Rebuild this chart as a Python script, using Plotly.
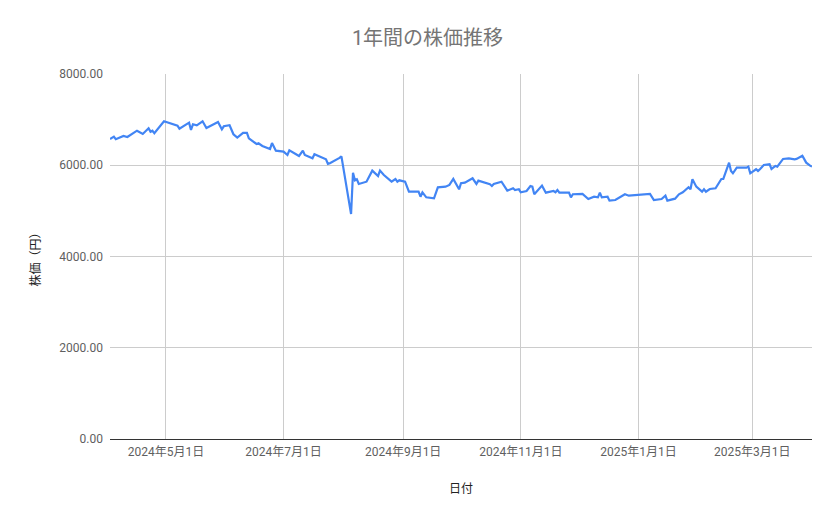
import plotly.graph_objects as go

# 日付と株価（チャートから読み取り）
dates = [
    "2024-04-02", "2024-04-04", "2024-04-05", "2024-04-09", "2024-04-11", "2024-04-16",
    "2024-04-19", "2024-04-22", "2024-04-23", "2024-04-24", "2024-04-25", "2024-04-30",
    "2024-05-07", "2024-05-08", "2024-05-13", "2024-05-14", "2024-05-15", "2024-05-17",
    "2024-05-20", "2024-05-22", "2024-05-28", "2024-05-30", "2024-05-31",
    "2024-06-03", "2024-06-05", "2024-06-07", "2024-06-10", "2024-06-12", "2024-06-13",
    "2024-06-17", "2024-06-18", "2024-06-20", "2024-06-24", "2024-06-25", "2024-06-27",
    "2024-07-01", "2024-07-03", "2024-07-04", "2024-07-09", "2024-07-11", "2024-07-12",
    "2024-07-16", "2024-07-17", "2024-07-22", "2024-07-23", "2024-07-24", "2024-07-25",
    "2024-07-30", "2024-07-31",
    "2024-08-05", "2024-08-06", "2024-08-07", "2024-08-08", "2024-08-09", "2024-08-13",
    "2024-08-16", "2024-08-19", "2024-08-20", "2024-08-22", "2024-08-26", "2024-08-28",
    "2024-08-29", "2024-08-30",
    "2024-09-02", "2024-09-04", "2024-09-09", "2024-09-10", "2024-09-11", "2024-09-13",
    "2024-09-17", "2024-09-19", "2024-09-23", "2024-09-25", "2024-09-27", "2024-09-30",
    "2024-10-01", "2024-10-03", "2024-10-07", "2024-10-09", "2024-10-10", "2024-10-16",
    "2024-10-17", "2024-10-18", "2024-10-22", "2024-10-25", "2024-10-28", "2024-10-29",
    "2024-10-31",
    "2024-11-01", "2024-11-04", "2024-11-06", "2024-11-07", "2024-11-08", "2024-11-12",
    "2024-11-14", "2024-11-18", "2024-11-19", "2024-11-20", "2024-11-21", "2024-11-26",
    "2024-11-27", "2024-11-28",
    "2024-12-03", "2024-12-06", "2024-12-09", "2024-12-11", "2024-12-12", "2024-12-13",
    "2024-12-16", "2024-12-17", "2024-12-20", "2024-12-25", "2024-12-27",
    "2025-01-07", "2025-01-09", "2025-01-13", "2025-01-15", "2025-01-16", "2025-01-20",
    "2025-01-22", "2025-01-24", "2025-01-27", "2025-01-28", "2025-01-29", "2025-01-31",
    "2025-02-03", "2025-02-04", "2025-02-05", "2025-02-07", "2025-02-10", "2025-02-13",
    "2025-02-14", "2025-02-17", "2025-02-18", "2025-02-19", "2025-02-21", "2025-02-26",
    "2025-02-27", "2025-02-28",
    "2025-03-03", "2025-03-04", "2025-03-05", "2025-03-07", "2025-03-10", "2025-03-11",
    "2025-03-13", "2025-03-14", "2025-03-17", "2025-03-20", "2025-03-23", "2025-03-24",
    "2025-03-27", "2025-03-29", "2025-03-31", "2025-04-01",
]

prices = [
    6576, 6627, 6570, 6642, 6620, 6758,
    6686, 6810, 6736, 6758, 6700, 6964,
    6868, 6802, 6934, 6773, 6898, 6876,
    6964, 6817, 6949, 6788, 6854,
    6876, 6679, 6605, 6708, 6708, 6591,
    6466, 6481, 6423, 6357, 6488, 6320,
    6298, 6225, 6328, 6203, 6320, 6225,
    6152, 6240, 6152, 6131, 6028, 6043,
    6160, 6195,
    4930, 5835, 5670, 5693, 5590, 5640,
    5882, 5765, 5882, 5787, 5640, 5699,
    5640, 5670,
    5640, 5421, 5421, 5311, 5407, 5297,
    5276, 5517, 5531, 5568, 5699, 5473,
    5605, 5619, 5714, 5590, 5662, 5583,
    5546, 5590, 5640, 5443, 5495, 5458,
    5473,
    5407, 5436, 5546, 5531, 5364, 5553,
    5399, 5436, 5407, 5458, 5399, 5399,
    5297, 5364,
    5371, 5261, 5311, 5297, 5399, 5297,
    5311, 5224, 5239, 5364, 5333,
    5371, 5239, 5261, 5333, 5224, 5268,
    5364, 5407, 5517, 5473, 5693, 5531,
    5421, 5473, 5421, 5480, 5495, 5699,
    5699, 6057, 5875, 5824, 5948, 5948,
    5970, 5824,
    5912, 5875, 5912, 6006, 6021, 5919,
    5985, 5970, 6138, 6152, 6131, 6138,
    6210, 6057, 5991, 5970,
]

tick_dates = ["2024-05-01", "2024-07-01", "2024-09-01", "2024-11-01", "2025-01-01", "2025-03-01"]
tick_labels = ["2024年5月1日", "2024年7月1日", "2024年9月1日", "2024年11月1日", "2025年1月1日", "2025年3月1日"]
y_ticks = [0, 2000, 4000, 6000, 8000]

FONT = "Roboto, 'Noto Sans CJK JP', sans-serif"

fig = go.Figure()
fig.add_trace(go.Scatter(
    x=dates,
    y=prices,
    mode="lines",
    line=dict(color="#4285f4", width=2.2),
    showlegend=False,
))

# the page has an 8px body margin, so margins are shifted by that much
fig.update_layout(
    width=839,
    height=519,
    margin=dict(l=102, r=35, t=66, b=88),
    paper_bgcolor="white",
    plot_bgcolor="white",
    font=dict(family=FONT, color="#5f5f5f", size=12),
    title=dict(
        text="1年間の株価推移",
        x=0.5,
        xanchor="center",
        y=0.943,
        yanchor="middle",
        font=dict(family=FONT, size=20, color="#757575"),
    ),
)

fig.update_xaxes(
    range=[dates[0], dates[-1]],
    tickvals=tick_dates,
    ticktext=tick_labels,
    showgrid=True,
    gridcolor="#cccccc",
    gridwidth=1,
    showline=False,
    zeroline=False,
    ticks="",
    ticklabelstandoff=4,
    tickfont=dict(size=12, color="#5f5f5f"),
    title=dict(text="日付", font=dict(size=12, color="#222222"), standoff=26),
)

fig.update_yaxes(
    range=[0, 8000],
    tickvals=y_ticks,
    tickformat=".2f",
    showgrid=True,
    gridcolor="#cccccc",
    gridwidth=1,
    zeroline=True,
    zerolinecolor="#333333",
    zerolinewidth=1,
    showline=False,
    ticks="",
    ticklabelstandoff=6,
    tickfont=dict(size=12, color="#5f5f5f"),
    title=dict(text="株価（円）", font=dict(size=12, color="#222222"), standoff=16),
)

fig.write_html("out.html")
